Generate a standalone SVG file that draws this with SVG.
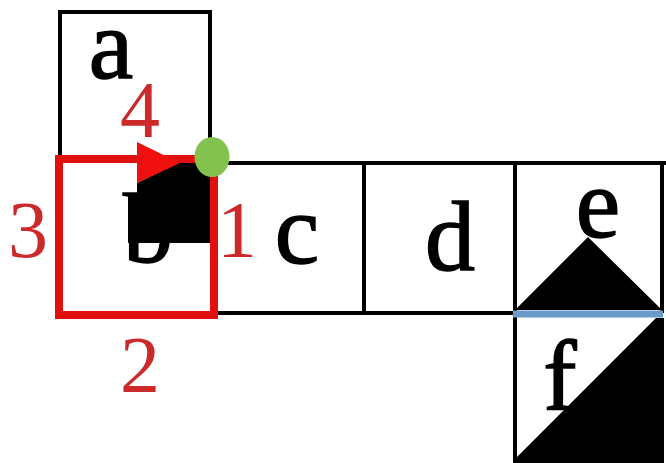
<svg xmlns="http://www.w3.org/2000/svg" width="666" height="463" viewBox="0 0 666 463">
<style>
.box{fill:none;stroke:#000;stroke-width:4}
.lbl{font-family:"Liberation Serif","DejaVu Serif",serif;font-size:100px;fill:#000;stroke:#000;stroke-width:1.5;text-anchor:middle}
.num{font-family:"Liberation Serif","DejaVu Serif",serif;font-size:80px;fill:#cc2a2a;text-anchor:middle}
.blk{fill:#000}
</style>
<rect width="666" height="463" fill="#fff"/>
<g id="a">
<path class="box" d="M60,160 V12 H210 V160"/>
<text class="lbl" x="111" y="78">a</text>
</g>
<g id="b">
<text class="lbl" x="148" y="262">b</text>
<polygon class="blk" points="128,193 137,193 137,183 180,162 210,162 210,243 128,243"/>
</g>
<g id="c">
<path class="box" d="M210,163 H364 M214,313 H364"/>
<text class="lbl" x="297" y="263">c</text>
</g>
<g id="d">
<path class="box" d="M364,163 H515 V313 H364 Z"/>
<text class="lbl" x="450" y="270">d</text>
</g>
<g id="e">
<path class="box" d="M515,163 H666 M662,163 V313 M515,163 V313"/>
<text class="lbl" x="598" y="237">e</text>
<polygon class="blk" points="515,310 588,237 662,310"/>
</g>
<g id="f">
<path class="box" d="M515,313 V463"/>
<text class="lbl" x="560" y="410">f</text>
<polygon class="blk" points="656,318 664,318 664,463 515,463 515,459"/>
</g>
<g id="connectors">
<line x1="513" y1="314" x2="663" y2="314" stroke="#6a9ac8" stroke-width="7"/>
<rect x="59" y="159" width="155" height="156" fill="none" stroke="#e0100f" stroke-width="8"/>
<polygon points="137,142 180,163 137,183" fill="#f01010"/>
<ellipse cx="212" cy="157" rx="17.5" ry="20" fill="#84c24e"/>
</g>
<g id="labels">
<text class="num" x="140" y="137">4</text>
<text class="num" x="28" y="257">3</text>
<text class="num" x="237" y="257">1</text>
<text class="num" x="140" y="392">2</text>
</g>
</svg>
